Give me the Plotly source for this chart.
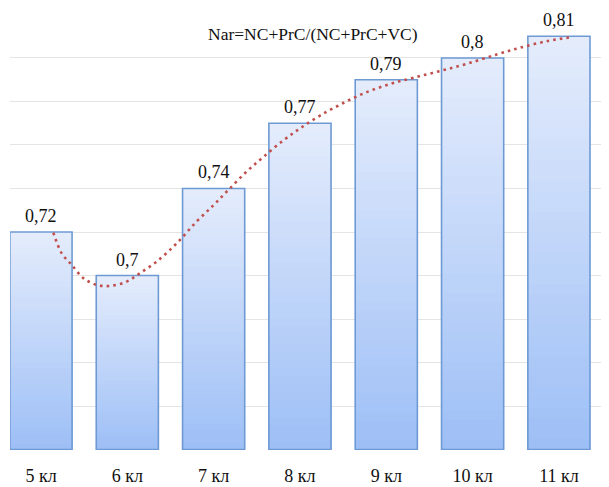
import plotly.graph_objects as go

# ---- data ----
categories = ["5 кл", "6 кл", "7 кл", "8 кл", "9 кл", "10 кл", "11 кл"]
values = [0.72, 0.70, 0.74, 0.77, 0.79, 0.80, 0.81]
formula_text = "Nar=NC+PrC/(NC+PrC+VC)"

# dotted trend curve (x in category positions)
trend_x = [0.143, 0.24, 0.356, 0.49, 0.645, 0.80, 0.993, 1.147, 1.34, 1.572, 1.80, 2.0,
           2.17, 2.38, 2.576, 2.81, 3.0, 3.233, 3.503, 3.774, 4.044, 4.314, 4.623, 4.933,
           5.28, 5.55, 5.86, 6.15]
trend_y = [0.7197, 0.7102, 0.7049, 0.6988, 0.6957, 0.6952, 0.6972, 0.7011, 0.7064, 0.7148,
           0.7247, 0.7324, 0.7393, 0.7477, 0.7545, 0.7622, 0.7676, 0.7735, 0.7793, 0.7843,
           0.7880, 0.7909, 0.7940, 0.7973, 0.8016, 0.8047, 0.8077, 0.8096]

Y_MIN, Y_MAX = 0.62, 0.82
x_pos = list(range(len(categories)))

TOP = (228, 236, 252)
BOT = (156, 190, 246)
N = 40
BAR_W = 0.72
FONT = "Liberation Serif, Times New Roman, serif"

fig = go.Figure()

# gradient fill: overlayed bars of decreasing height, darker towards the bottom
for k in range(N):
    frac = (N - k) / N
    c = tuple(round(BOT[i] + (TOP[i] - BOT[i]) * frac) for i in range(3))
    fig.add_trace(go.Bar(
        x=x_pos,
        y=[(v - Y_MIN) * frac for v in values],
        base=[Y_MIN] * len(values),
        width=BAR_W,
        marker=dict(color="rgb(%d,%d,%d)" % c, line=dict(width=0)),
        hoverinfo="skip", showlegend=False,
    ))

# bar outlines
fig.add_trace(go.Bar(
    x=x_pos,
    y=[v - Y_MIN for v in values],
    base=[Y_MIN] * len(values),
    width=BAR_W,
    marker=dict(color="rgba(0,0,0,0)", line=dict(color="#6E9AD4", width=1.6)),
    showlegend=False,
))

# trend line
fig.add_trace(go.Scatter(
    x=trend_x, y=trend_y, mode="lines",
    line=dict(color="#C0504D", width=2.6, dash="2.6px,4.1px", shape="spline"),
    showlegend=False, hoverinfo="skip",
))

# value labels
for xi, v in zip(x_pos, values):
    fig.add_annotation(
        x=xi, y=v, xref="x", yref="y",
        text=("%g" % v).replace(".", ","),
        showarrow=False, xanchor="center", yanchor="bottom", yshift=4,
        font=dict(family=FONT, size=18, color="#111111"),
    )

fig.add_annotation(
    text=formula_text, xref="paper", yref="paper", x=0.506, y=0.954,
    xanchor="center", yanchor="middle", showarrow=False,
    font=dict(family=FONT, size=17.5, color="#111111"),
)

# the page body adds an 8px offset, so the figure is sized to fit the window
fig.update_layout(
    width=601, height=479,
    margin=dict(l=2, r=0, t=6, b=37),
    barmode="overlay",
    plot_bgcolor="white", paper_bgcolor="white",
    font=dict(family=FONT, size=17, color="#111111"),
)
fig.update_xaxes(
    range=[-0.359, 6.58],
    tickmode="array", tickvals=x_pos, ticktext=categories,
    showgrid=False, zeroline=False,
    showline=False, ticks="",
    ticklabelstandoff=13,
    tickfont=dict(family=FONT, size=18, color="#111111"),
)
fig.update_yaxes(
    range=[Y_MIN - 0.0002, Y_MAX + 0.0002],
    tick0=Y_MIN, dtick=0.02,
    showticklabels=False, showgrid=True, gridcolor="#E4E4E4", gridwidth=1,
    zeroline=False, showline=False,
)

fig.write_html("out.html")
